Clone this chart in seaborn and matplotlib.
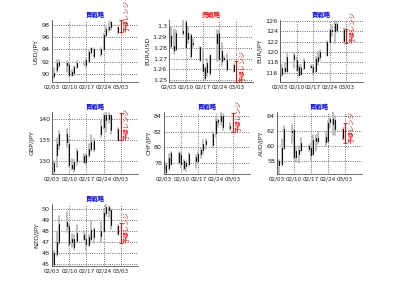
import numpy as np
import pandas as pd
import matplotlib
matplotlib.use("Agg")
import matplotlib.pyplot as plt
import matplotlib.dates as mdates
import seaborn as sns

sns.set_style("white")
plt.rcParams['font.family'] = ['DejaVu Sans', 'Noto Sans CJK JP']

dates = ["2009-02-03", "2009-02-04", "2009-02-05", "2009-02-06",
         "2009-02-09", "2009-02-10", "2009-02-11", "2009-02-12", "2009-02-13",
         "2009-02-16", "2009-02-17", "2009-02-18", "2009-02-19", "2009-02-20",
         "2009-02-23", "2009-02-24", "2009-02-25", "2009-02-26", "2009-02-27",
         "2009-03-02"]
range_date = "2009-03-03"
xtick_dates = ["2009-02-03", "2009-02-10", "2009-02-17", "2009-02-24", "2009-03-03"]

pairs = ["USD/JPY", "EUR/USD", "EUR/JPY", "GBP/JPY", "CHF/JPY", "AUD/JPY", "NZD/JPY"]
strategies = ["買戦略", "売戦略", "買戦略", "買戦略", "買戦略", "買戦略", "買戦略"]

usdjpy_o = [89.1, 89.6, 90.7, 91.5, 91.8, 91.5, 89.9, 90.2, 91.2, 91.8, 91.5, 92.1, 93.6, 94.0, 93.3, 94.0, 96.4, 97.4, 97.6, 97.6]
usdjpy_h = [89.8, 90.9, 92.3, 92.3, 92.1, 91.8, 90.7, 91.3, 92.1, 92.0, 92.6, 93.8, 94.3, 94.3, 94.3, 96.5, 97.6, 98.4, 98.7, 97.7]
usdjpy_l = [88.7, 89.3, 90.4, 91.2, 90.4, 89.7, 89.6, 89.8, 90.9, 91.5, 90.9, 91.9, 93.2, 92.6, 92.9, 93.9, 96.2, 96.8, 97.2, 96.6]
usdjpy_c = [89.7, 90.2, 91.8, 92.0, 91.4, 89.9, 90.4, 91.1, 91.8, 91.8, 92.3, 93.6, 94.2, 93.0, 94.0, 96.4, 97.4, 97.6, 98.5, 96.8]
usdjpy_range = [96.8, 98.8]

eurusd_o = [1.2900, 1.2910, 1.2815, 1.2790, 1.2940, 1.3040, 1.2940, 1.2920, 1.2840, 1.2810, 1.2650, 1.2610, 1.2580, 1.2730, 1.2930, 1.2940, 1.2770, 1.2705, 1.2690, 1.2645]
eurusd_h = [1.3050, 1.2990, 1.2975, 1.2960, 1.3055, 1.3050, 1.2990, 1.2930, 1.2880, 1.2810, 1.2790, 1.2620, 1.2700, 1.2730, 1.2960, 1.2950, 1.2840, 1.2720, 1.2740, 1.2650]
eurusd_l = [1.2810, 1.2800, 1.2745, 1.2770, 1.2920, 1.2795, 1.2840, 1.2710, 1.2810, 1.2680, 1.2590, 1.2500, 1.2540, 1.2545, 1.2680, 1.2690, 1.2630, 1.2680, 1.2590, 1.2580]
eurusd_c = [1.2990, 1.2815, 1.2780, 1.2940, 1.2955, 1.2810, 1.2880, 1.2720, 1.2835, 1.2690, 1.2590, 1.2520, 1.2660, 1.2570, 1.2840, 1.2700, 1.2680, 1.2700, 1.2600, 1.2585]
eurusd_range = [1.2485, 1.2680]

eurjpy_o = [114.4, 115.7, 117.0, 116.4, 118.6, 118.5, 117.1, 115.8, 116.9, 117.3, 117.2, 116.4, 118.2, 119.0, 119.5, 122.0, 124.2, 124.0, 125.5, 124.3]
eurjpy_h = [116.5, 117.5, 117.9, 119.6, 119.8, 119.1, 117.5, 117.5, 118.6, 117.4, 117.5, 119.1, 120.1, 120.4, 122.2, 124.5, 125.2, 126.2, 126.0, 124.6]
eurjpy_l = [114.2, 115.3, 115.8, 116.2, 117.0, 116.4, 115.4, 115.5, 116.6, 117.0, 115.6, 116.2, 117.5, 118.5, 119.2, 121.8, 123.2, 121.8, 123.9, 121.8]
eurjpy_c = [115.7, 117.0, 116.4, 119.0, 119.4, 116.6, 115.6, 117.0, 118.3, 117.2, 116.2, 118.6, 119.0, 120.0, 122.0, 124.2, 124.0, 125.5, 124.2, 122.2]
eurjpy_range = [121.8, 124.4]

gbpjpy_o = [129.3, 129.5, 131.5, 133.8, 136.5, 134.0, 129.0, 128.2, 130.0, 131.3, 129.8, 131.4, 133.0, 134.8, 136.5, 138.2, 141.0, 140.0, 141.0, 137.8]
gbpjpy_h = [130.8, 130.0, 135.5, 137.2, 137.8, 135.2, 130.6, 130.2, 133.0, 131.8, 131.8, 134.2, 136.2, 135.2, 139.8, 141.4, 141.8, 141.5, 141.0, 138.0]
gbpjpy_l = [128.0, 126.9, 128.6, 133.0, 133.5, 128.6, 127.8, 127.3, 129.0, 129.6, 129.0, 130.9, 132.5, 132.4, 135.8, 137.7, 137.0, 139.2, 136.5, 134.8]
gbpjpy_c = [129.6, 127.6, 134.0, 136.5, 134.5, 129.0, 128.4, 129.8, 132.5, 129.8, 131.4, 132.9, 134.5, 132.8, 138.4, 141.0, 139.8, 141.0, 137.5, 135.0]
gbpjpy_range = [135.0, 141.6]

chfjpy_o = [78.3, 77.8, 77.4, 77.9, 79.3, 79.0, 78.3, 77.6, 77.9, 78.2, 78.3, 79.2, 79.6, 80.4, 80.3, 81.8, 83.2, 83.3, 84.0, 82.7]
chfjpy_h = [78.5, 78.0, 79.2, 79.4, 79.4, 79.4, 78.4, 78.3, 79.3, 79.0, 79.4, 79.9, 80.9, 81.1, 81.9, 83.7, 83.6, 84.5, 84.2, 83.1]
chfjpy_l = [76.8, 76.6, 77.1, 77.8, 77.9, 77.4, 77.1, 77.0, 77.6, 77.4, 78.0, 78.6, 79.2, 79.8, 80.0, 81.3, 82.6, 82.8, 82.2, 82.2]
chfjpy_c = [77.2, 76.9, 78.7, 79.3, 78.1, 77.9, 77.4, 78.0, 79.1, 78.8, 79.2, 79.6, 80.4, 80.8, 81.7, 83.4, 83.5, 84.0, 82.6, 82.5]
chfjpy_range = [82.0, 84.4]

audjpy_o = [57.6, 58.0, 57.6, 59.8, 62.0, 62.1, 58.6, 59.0, 59.5, 60.0, 59.8, 58.9, 60.6, 61.0, 60.5, 60.6, 63.2, 63.6, 63.5, 62.3]
audjpy_h = [58.6, 58.2, 60.9, 62.6, 62.8, 62.2, 59.9, 60.0, 61.0, 60.2, 60.4, 61.5, 61.4, 61.8, 61.9, 63.3, 63.7, 64.5, 64.0, 62.4]
audjpy_l = [56.4, 56.3, 57.3, 59.6, 60.4, 58.3, 57.9, 57.8, 59.2, 59.3, 58.2, 58.8, 59.4, 60.3, 60.0, 60.5, 62.4, 61.5, 61.5, 60.8]
audjpy_c = [58.3, 57.5, 59.8, 62.2, 61.8, 58.6, 59.4, 59.5, 60.4, 59.6, 58.8, 60.8, 61.0, 60.6, 61.2, 63.1, 63.6, 62.9, 62.3, 61.0]
audjpy_range = [60.4, 63.0]

nzdjpy_o = [46.1, 45.0, 45.9, 47.0, 48.8, 48.4, 47.0, 47.3, 47.1, 47.6, 47.3, 46.7, 47.3, 48.2, 47.5, 48.0, 49.6, 50.2, 49.9, 48.4]
nzdjpy_h = [46.2, 46.2, 47.9, 49.4, 49.7, 48.6, 47.7, 47.6, 48.5, 48.0, 47.7, 47.6, 48.9, 48.3, 48.8, 50.0, 50.45, 50.3, 50.0, 48.5]
nzdjpy_l = [44.8, 44.8, 45.7, 46.8, 47.9, 46.6, 46.5, 46.3, 47.0, 47.2, 46.3, 46.6, 47.1, 46.9, 47.0, 47.9, 49.4, 49.3, 48.2, 47.6]
nzdjpy_c = [44.9, 46.0, 47.0, 48.6, 48.4, 46.8, 47.3, 46.5, 47.8, 47.3, 46.8, 47.4, 48.1, 47.4, 48.0, 49.6, 50.2, 49.9, 48.5, 47.7]
nzdjpy_range = [46.9, 48.7]

yticks_usdjpy = [90, 92, 94, 96, 98]
yticks_eurusd = [1.25, 1.26, 1.27, 1.28, 1.29, 1.30]
yticks_eurjpy = [116, 118, 120, 122, 124, 126]
yticks_gbpjpy = [130, 135, 140]
yticks_chfjpy = [78, 80, 82, 84]
yticks_audjpy = [58, 60, 62, 64]
yticks_nzdjpy = [45, 46, 47, 48, 49, 50]

ohlc = [
    (usdjpy_o, usdjpy_h, usdjpy_l, usdjpy_c, usdjpy_range, yticks_usdjpy),
    (eurusd_o, eurusd_h, eurusd_l, eurusd_c, eurusd_range, yticks_eurusd),
    (eurjpy_o, eurjpy_h, eurjpy_l, eurjpy_c, eurjpy_range, yticks_eurjpy),
    (gbpjpy_o, gbpjpy_h, gbpjpy_l, gbpjpy_c, gbpjpy_range, yticks_gbpjpy),
    (chfjpy_o, chfjpy_h, chfjpy_l, chfjpy_c, chfjpy_range, yticks_chfjpy),
    (audjpy_o, audjpy_h, audjpy_l, audjpy_c, audjpy_range, yticks_audjpy),
    (nzdjpy_o, nzdjpy_h, nzdjpy_l, nzdjpy_c, nzdjpy_range, yticks_nzdjpy),
]

# axes boxes in pixels: left, top, right, bottom
W, H = 400, 301
boxes = [(52, 20, 138, 82), (169, 20, 253, 82), (280, 20, 363, 82),
         (52, 112, 138, 174), (164, 112, 250, 174), (277, 112, 362, 174),
         (52, 204, 138, 266)]

fig = plt.figure(figsize=(W / 100, H / 100), dpi=100)
fig.patch.set_facecolor("white")

d = pd.to_datetime(dates)
rd = pd.to_datetime(range_date)
xlim = (pd.Timestamp("2009-02-03"), pd.Timestamp("2009-03-10"))
cjk = ['Noto Sans CJK JP', 'DejaVu Sans']

for i, (pair, strat, (o, h, l, c, rng, yt)) in enumerate(zip(pairs, strategies, ohlc)):
    lft, top, rgt, bot = boxes[i]
    ax = fig.add_axes([lft / W, 1 - bot / H, (rgt - lft) / W, (bot - top) / H])

    n = len(d)
    hl = pd.DataFrame({"date": list(d) * 2, "price": list(h) + list(l),
                       "seg": list(range(n)) * 2})
    oc = pd.DataFrame({"date": list(d) * 2, "price": list(o) + list(c),
                       "seg": list(range(n)) * 2})
    sns.lineplot(data=hl, x="date", y="price", units="seg", estimator=None,
                 color="#b4b4b4", lw=1.2, ax=ax)
    sns.lineplot(data=oc, x="date", y="price", units="seg", estimator=None,
                 color="#111111", lw=0.8, ax=ax)

    # forecast range
    lo, hi = rng
    ax.errorbar([rd], [(lo + hi) / 2], yerr=[(hi - lo) / 2], color="red",
                lw=0.8, capsize=1.5, capthick=0.6, clip_on=False, zorder=5)
    ax.text(rd + pd.Timedelta(days=0.9), lo, "予想レンジ", rotation=90,
            color="red", fontsize=4.6, ha="left", va="bottom",
            family=cjk, clip_on=False)

    ax.set_xlim(*xlim)
    ax.set_ylim(min(min(l), lo), max(max(h), hi))
    ax.set_xticks(pd.to_datetime(xtick_dates))
    ax.xaxis.set_major_formatter(mdates.DateFormatter("%m/%d"))
    ax.set_yticks(yt)
    ax.set_yticklabels([f"{v:g}" for v in yt])
    ax.tick_params(axis="both", direction="in", length=1.5,
                   width=0.4, pad=1.5, colors="#222222")
    ax.tick_params(axis="x", labelsize=4.1)
    ax.tick_params(axis="y", labelsize=4.6)
    ax.grid(True, ls=":", color="#444444", lw=0.6)
    for s in ["top", "right"]:
        ax.spines[s].set_visible(False)
    for s in ["left", "bottom"]:
        ax.spines[s].set_color("#555555")
        ax.spines[s].set_linewidth(0.6)
    ax.set_xlabel("")
    ax.set_ylabel(pair, fontsize=4.6, labelpad=2)
    ax.set_title(strat, fontsize=4.6, fontweight="bold",
                 color="red" if strat == "売戦略" else "blue",
                 family=cjk, pad=2.5)

fig.savefig("out.png", dpi=100, facecolor="white")
